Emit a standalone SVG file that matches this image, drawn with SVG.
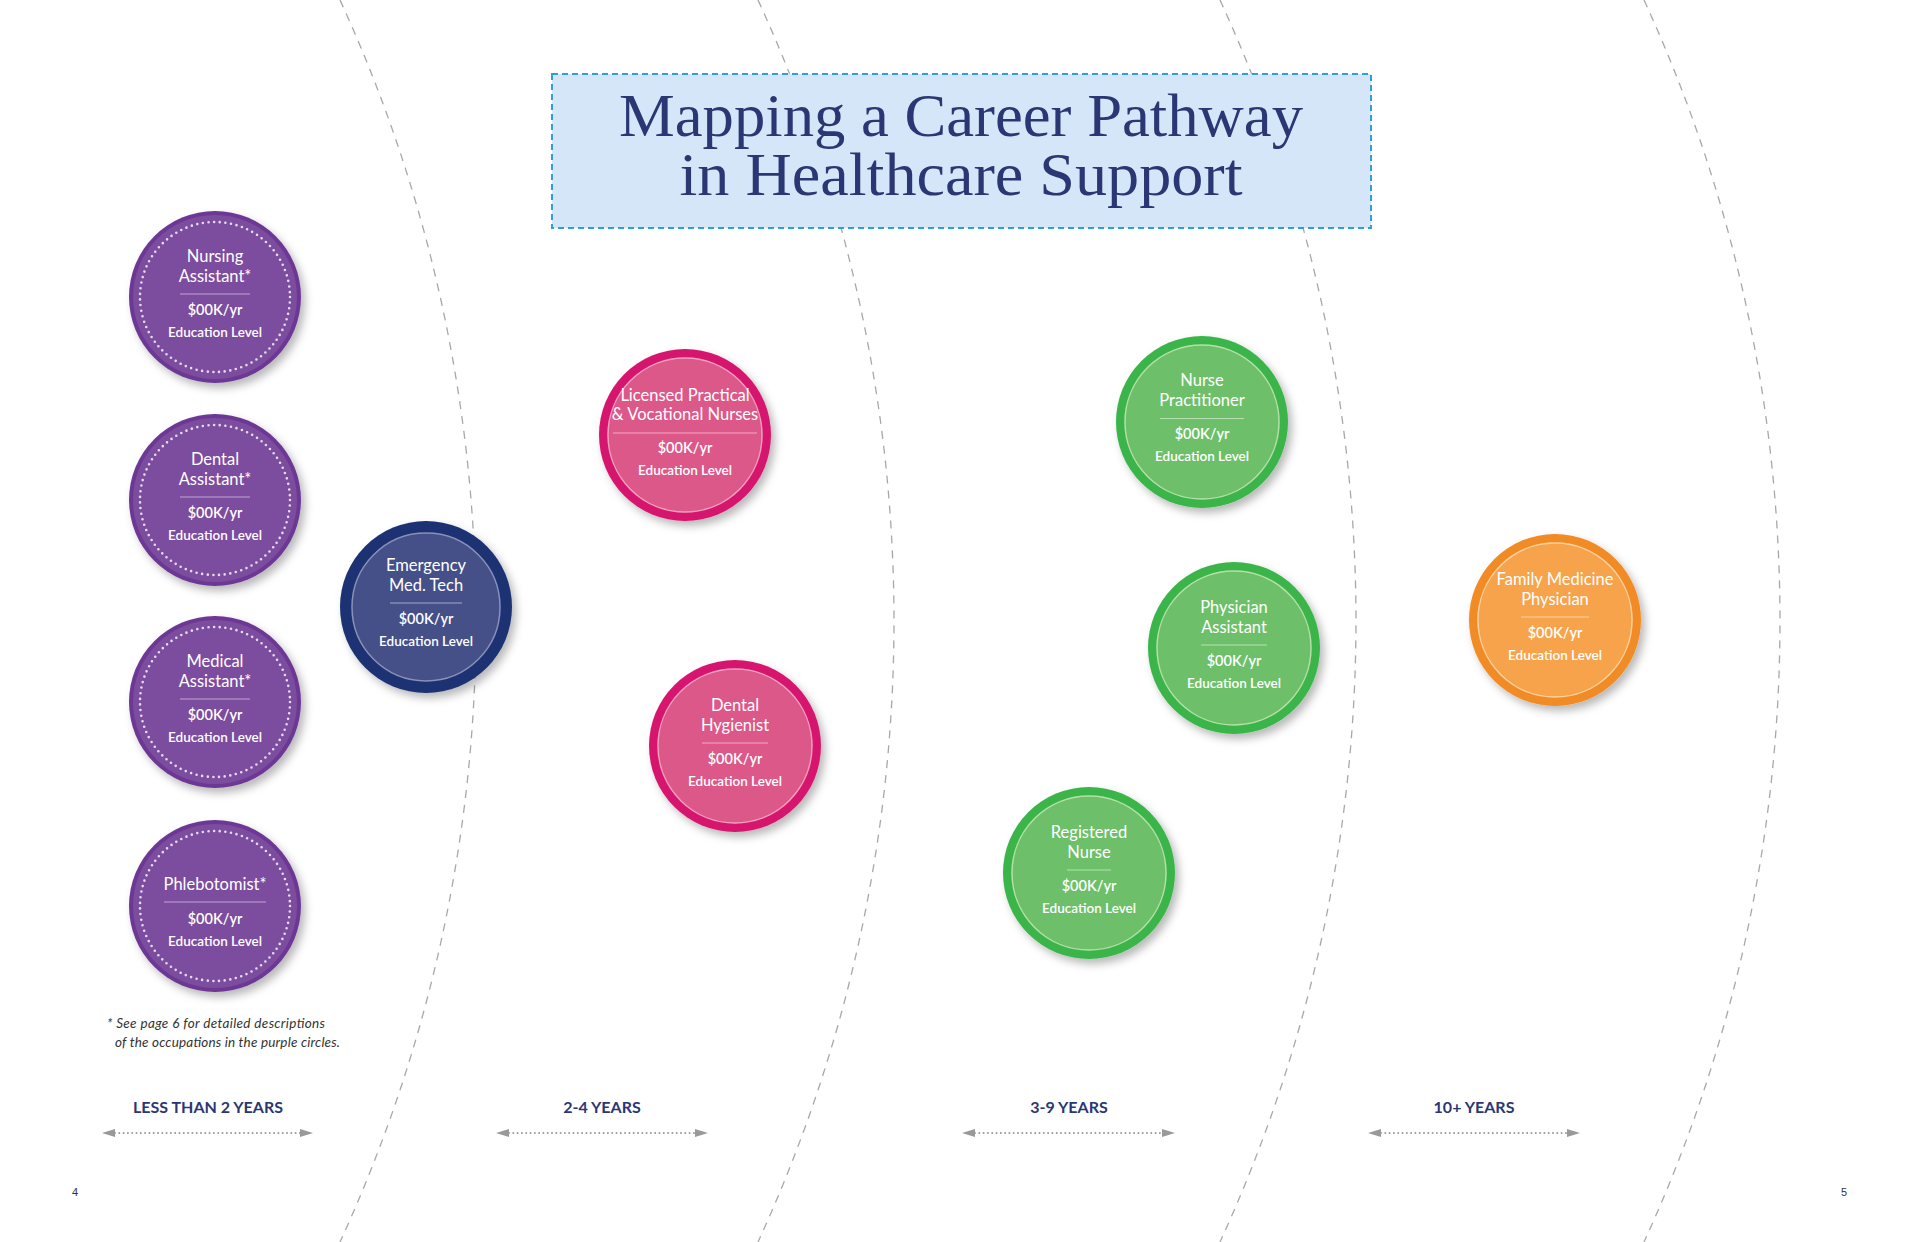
<svg xmlns="http://www.w3.org/2000/svg" width="1920" height="1242" viewBox="0 0 1920 1242">
<defs>
  <filter id="sh" x="-30%" y="-30%" width="170%" height="170%">
    <feDropShadow dx="4" dy="5" stdDeviation="4" flood-color="#000" flood-opacity="0.28"/>
  </filter>
  <marker id="ah" viewBox="0 0 13 8" markerWidth="13" markerHeight="8" refX="0" refY="4" orient="auto-start-reverse" markerUnits="userSpaceOnUse">
    <path d="M0,0 L13,4 L0,8 z" fill="#999"/>
  </marker>
  <style>
    .arc{fill:none;stroke:#a8a8a8;stroke-width:1.3;stroke-dasharray:8 7}
    .t{font-family:Lato,"Liberation Sans",sans-serif;font-size:16.5px;fill:#fff;text-anchor:middle}
    .s{font-family:Lato,"Liberation Sans",sans-serif;font-size:14.5px;font-weight:600;fill:#fff;text-anchor:middle}
    .e{font-family:Lato,"Liberation Sans",sans-serif;font-size:13.5px;font-weight:600;fill:#fff;text-anchor:middle}
    .sep{stroke:#fff;stroke-opacity:0.5;stroke-width:1.2}
    .p-out{fill:#6d3894}
    .p-in{fill:#7c4c9f}
    .p-dot{fill:none;stroke:#fff;stroke-opacity:0.8;stroke-width:2.6;stroke-linecap:round;stroke-dasharray:0 5.677}
    .n-out{fill:#1f3372}
    .n-in{fill:#454f88;stroke:#8a90b8;stroke-width:1.5}
    .k-out{fill:#d6186e}
    .k-in{fill:#dc5889;stroke:#f0a0c0;stroke-width:1.5}
    .g-out{fill:#3bb54a}
    .g-in{fill:#6dc069;stroke:#b6dfa9;stroke-width:1.5}
    .o-out{fill:#f18b25}
    .o-in{fill:#f6a34b;stroke:#fcd2a0;stroke-width:1.5}
    .lbl{font-family:Lato,"Liberation Sans",sans-serif;font-size:16px;font-weight:700;fill:#2b3674;text-anchor:middle}
    .tl{stroke:#999;stroke-width:2;stroke-linecap:round;stroke-dasharray:0 4.3;fill:none}
    .note{font-family:Lato,"Liberation Sans",sans-serif;font-size:13.5px;font-style:italic;fill:#333}
    .pg{font-family:"Liberation Sans",sans-serif;font-size:11px;fill:#333;text-anchor:middle}
    .ttl{font-family:"Liberation Serif",serif;font-size:62px;fill:#2b3674;text-anchor:middle}
  </style>
</defs>
<rect width="1920" height="1242" fill="#fff"/>

<g id="dividers">
  <path class="arc" d="M340,0 A1486,1486 0 0 1 340,1242"/>
  <path class="arc" d="M758,0 A1486,1486 0 0 1 758,1242"/>
  <path class="arc" d="M1220,0 A1486,1486 0 0 1 1220,1242"/>
  <path class="arc" d="M1644,0 A1486,1486 0 0 1 1644,1242"/>
</g>

<g id="title">
  <rect x="552" y="74" width="819" height="154" fill="#d4e6f7" stroke="#2f9fdc" stroke-width="2" stroke-dasharray="6 4"/>
  <text class="ttl" x="961" y="136" textLength="684" lengthAdjust="spacingAndGlyphs">Mapping a Career Pathway</text>
  <text class="ttl" x="961" y="195" textLength="563" lengthAdjust="spacingAndGlyphs">in Healthcare Support</text>
</g>

<g id="nursing-assistant" transform="translate(215,297)">
  <circle r="86" class="p-out" filter="url(#sh)"/><circle r="82" class="p-in"/><circle r="75" class="p-dot"/>
  <text class="t" y="-35">Nursing</text><text class="t" y="-15.5">Assistant*</text>
  <line class="sep" x1="-35" x2="35" y1="-3" y2="-3"/>
  <text class="s" y="17.5">$00K/yr</text><text class="e" y="39.5">Education Level</text>
</g>
<g id="dental-assistant" transform="translate(215,500)">
  <circle r="86" class="p-out" filter="url(#sh)"/><circle r="82" class="p-in"/><circle r="75" class="p-dot"/>
  <text class="t" y="-35">Dental</text><text class="t" y="-15.5">Assistant*</text>
  <line class="sep" x1="-35" x2="35" y1="-3" y2="-3"/>
  <text class="s" y="17.5">$00K/yr</text><text class="e" y="39.5">Education Level</text>
</g>
<g id="medical-assistant" transform="translate(215,702)">
  <circle r="86" class="p-out" filter="url(#sh)"/><circle r="82" class="p-in"/><circle r="75" class="p-dot"/>
  <text class="t" y="-35">Medical</text><text class="t" y="-15.5">Assistant*</text>
  <line class="sep" x1="-35" x2="35" y1="-3" y2="-3"/>
  <text class="s" y="17.5">$00K/yr</text><text class="e" y="39.5">Education Level</text>
</g>
<g id="phlebotomist" transform="translate(215,906)">
  <circle r="86" class="p-out" filter="url(#sh)"/><circle r="82" class="p-in"/><circle r="75" class="p-dot"/>
  <text class="t" y="-16">Phlebotomist*</text>
  <line class="sep" x1="-51" x2="51" y1="-4" y2="-4"/>
  <text class="s" y="18">$00K/yr</text><text class="e" y="40">Education Level</text>
</g>

<g id="emergency-med-tech" transform="translate(426,607)">
  <circle r="86" class="n-out" filter="url(#sh)"/><circle r="74" class="n-in"/>
  <text class="t" y="-36">Emergency</text><text class="t" y="-16">Med. Tech</text>
  <line class="sep" x1="-36" x2="36" y1="-4" y2="-4"/>
  <text class="s" y="17">$00K/yr</text><text class="e" y="39">Education Level</text>
</g>

<g id="licensed-practical-nurses" transform="translate(685,435)">
  <circle r="86" class="k-out" filter="url(#sh)"/><circle r="77" class="k-in"/>
  <text class="t" y="-34">Licensed Practical</text><text class="t" y="-15">&amp; Vocational Nurses</text>
  <line class="sep" x1="-72" x2="72" y1="-2" y2="-2"/>
  <text class="s" y="18">$00K/yr</text><text class="e" y="40">Education Level</text>
</g>
<g id="dental-hygienist" transform="translate(735,746)">
  <circle r="86" class="k-out" filter="url(#sh)"/><circle r="77" class="k-in"/>
  <text class="t" y="-35">Dental</text><text class="t" y="-15.5">Hygienist</text>
  <line class="sep" x1="-33" x2="33" y1="-3" y2="-3"/>
  <text class="s" y="17.5">$00K/yr</text><text class="e" y="39.5">Education Level</text>
</g>

<g id="nurse-practitioner" transform="translate(1202,422)">
  <circle r="86" class="g-out" filter="url(#sh)"/><circle r="77" class="g-in"/>
  <text class="t" y="-36">Nurse</text><text class="t" y="-16">Practitioner</text>
  <line class="sep" x1="-42" x2="42" y1="-3.5" y2="-3.5"/>
  <text class="s" y="17">$00K/yr</text><text class="e" y="39">Education Level</text>
</g>
<g id="physician-assistant" transform="translate(1234,648)">
  <circle r="86" class="g-out" filter="url(#sh)"/><circle r="77" class="g-in"/>
  <text class="t" y="-35">Physician</text><text class="t" y="-15.5">Assistant</text>
  <line class="sep" x1="-33" x2="33" y1="-3" y2="-3"/>
  <text class="s" y="17.5">$00K/yr</text><text class="e" y="39.5">Education Level</text>
</g>
<g id="registered-nurse" transform="translate(1089,873)">
  <circle r="86" class="g-out" filter="url(#sh)"/><circle r="77" class="g-in"/>
  <text class="t" y="-35">Registered</text><text class="t" y="-15.5">Nurse</text>
  <line class="sep" x1="-22" x2="22" y1="-3" y2="-3"/>
  <text class="s" y="17.5">$00K/yr</text><text class="e" y="39.5">Education Level</text>
</g>

<g id="family-medicine-physician" transform="translate(1555,620)">
  <circle r="86" class="o-out" filter="url(#sh)"/><circle r="77" class="o-in"/>
  <text class="t" y="-35">Family Medicine</text><text class="t" y="-15.5">Physician</text>
  <line class="sep" x1="-34" x2="34" y1="-3" y2="-3"/>
  <text class="s" y="17.5">$00K/yr</text><text class="e" y="39.5">Education Level</text>
</g>

<g id="footnote">
  <text class="note" x="107" y="1028" textLength="218" lengthAdjust="spacing">* See page 6 for detailed descriptions</text>
  <text class="note" x="115" y="1047" textLength="225" lengthAdjust="spacing">of the occupations in the purple circles.</text>
</g>

<g id="connectors">
  <line class="tl" x1="115" y1="1133" x2="300" y2="1133" marker-start="url(#ah)" marker-end="url(#ah)"/>
  <line class="tl" x1="509" y1="1133" x2="695" y2="1133" marker-start="url(#ah)" marker-end="url(#ah)"/>
  <line class="tl" x1="975" y1="1133" x2="1162" y2="1133" marker-start="url(#ah)" marker-end="url(#ah)"/>
  <line class="tl" x1="1381" y1="1133" x2="1567" y2="1133" marker-start="url(#ah)" marker-end="url(#ah)"/>
</g>

<g id="timeline-labels">
  <text class="lbl" x="208" y="1113">LESS THAN 2 YEARS</text>
  <text class="lbl" x="602" y="1113">2-4 YEARS</text>
  <text class="lbl" x="1069" y="1113">3-9 YEARS</text>
  <text class="lbl" x="1474" y="1113">10+ YEARS</text>
</g>

<g id="page-numbers">
  <text class="pg" x="75" y="1196">4</text>
  <text class="pg" x="1844" y="1196">5</text>
</g>
</svg>
